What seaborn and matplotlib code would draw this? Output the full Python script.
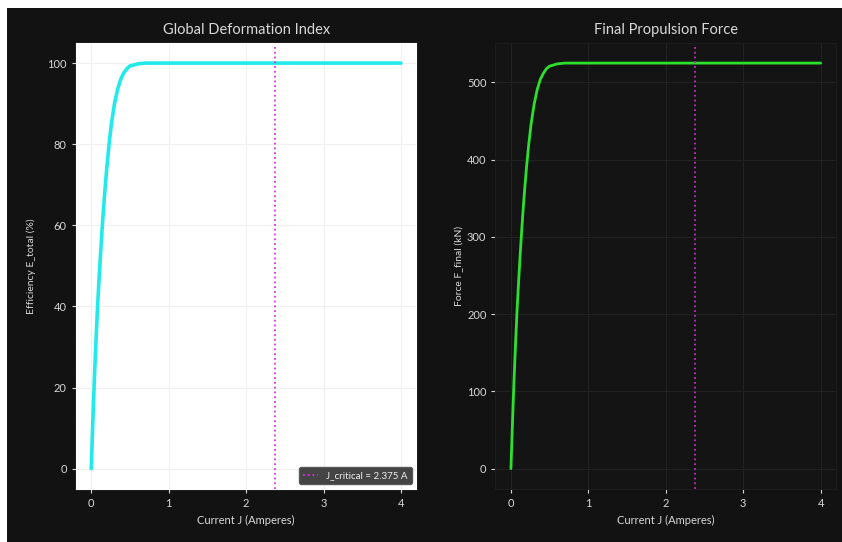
import matplotlib
matplotlib.use('Agg')
import matplotlib.pyplot as plt
import seaborn as sns
import pandas as pd
from matplotlib.patches import Rectangle

# values
current_j = [0.0, 0.02, 0.04, 0.06, 0.08, 0.10, 0.12, 0.14, 0.16, 0.18, 0.20,
             0.23, 0.26, 0.30, 0.34, 0.38, 0.42, 0.46, 0.50, 0.60, 0.70,
             1.0, 1.5, 2.0, 2.5, 3.0, 3.5, 4.0]
efficiency = [0.0, 11.5, 22.0, 31.0, 39.5, 46.5, 53.0, 59.0, 64.5, 69.5, 74.0,
              80.0, 85.0, 90.0, 93.5, 96.0, 97.6, 98.6, 99.3, 99.8, 100.0,
              100.0, 100.0, 100.0, 100.0, 100.0, 100.0, 100.0]
force = [0.0, 60.0, 115.0, 163.0, 207.0, 244.0, 278.0, 310.0, 339.0, 365.0, 389.0,
         420.0, 446.0, 472.0, 491.0, 504.0, 512.0, 518.0, 521.0, 524.0, 525.0,
         525.0, 525.0, 525.0, 525.0, 525.0, 525.0, 525.0]
j_critical = 2.375

df = pd.DataFrame({'J': current_j, 'E': efficiency, 'F': force})

sns.set_style('dark')
plt.rcParams['font.family'] = ['Lato', 'DejaVu Sans']

bg = '#121212'
txt = '#d8d8d8'

fig, (ax1, ax2) = plt.subplots(1, 2, figsize=(8.42, 5.42), dpi=100)
fig.patch.set_facecolor('white')
fig.patches.append(Rectangle((7 / 842, 0), 1, 1 - 8 / 542, transform=fig.transFigure,
                             facecolor=bg, edgecolor='none', zorder=-10))
plt.subplots_adjust(left=0.09, right=0.993, bottom=0.098, top=0.921, wspace=0.232)

# Left: efficiency
ax1.set_facecolor('white')
sns.lineplot(data=df, x='J', y='E', ax=ax1, color='#22eaea', linewidth=2.6)
ax1.axvline(j_critical, color='#e030e0', linestyle=':', linewidth=1.3,
            label=f'J_critical = {j_critical} A')
ax1.set_title('Global Deformation Index', color=txt, fontsize=10.5)
ax1.set_xlabel('Current J (Amperes)', color=txt, fontsize=8)
ax1.set_ylabel('Efficiency E_total (%)', color=txt, fontsize=7.5, labelpad=8)
ax1.grid(True, color='#f0f0f0', linewidth=0.8)
for s in ax1.spines.values():
    s.set_color('white')
leg = ax1.legend(loc='lower right', facecolor='#3a3a3a', edgecolor='#555555',
                 framealpha=0.95, fontsize=7, borderpad=0.4, handlelength=1.6)
for t in leg.get_texts():
    t.set_color('#eeeeee')

# Right: force
ax2.set_facecolor('#141414')
sns.lineplot(data=df, x='J', y='F', ax=ax2, color='#2ee02e', linewidth=2.0)
ax2.axvline(j_critical, color='#c030c0', linestyle=':', linewidth=1.3)
ax2.set_title('Final Propulsion Force', color=txt, fontsize=10.5)
ax2.set_xlabel('Current J (Amperes)', color=txt, fontsize=8)
ax2.set_ylabel('Force F_final (kN)', color=txt, fontsize=7.5, labelpad=2)
ax2.grid(True, color='#222222', linewidth=0.8)
for s in ax2.spines.values():
    s.set_color('#1c1c1c')

for ax in (ax1, ax2):
    ax.set_xticks([0, 1, 2, 3, 4])
    ax.tick_params(colors=txt, labelsize=8, length=3, width=0.8, direction='out',
                   bottom=True, left=True)

ax1.set_yticks([0, 20, 40, 60, 80, 100])
ax2.set_yticks([0, 100, 200, 300, 400, 500])

fig.savefig('out.png', dpi=100, facecolor=fig.get_facecolor())
